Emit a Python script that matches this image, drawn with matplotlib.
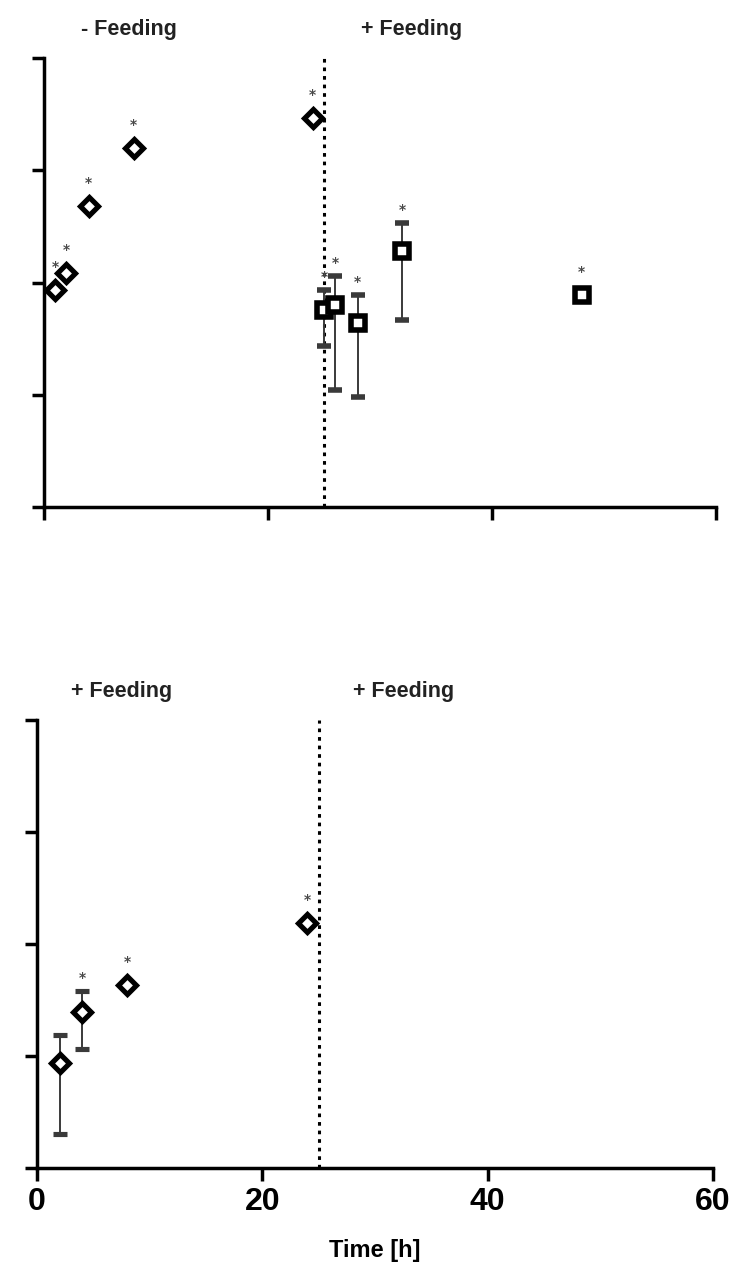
import numpy as np
import matplotlib
matplotlib.use("Agg")
import matplotlib.pyplot as plt
import matplotlib.transforms as mtransforms

# ---- data (log y axis, arbitrary units) ----
# top panel
top_diam_x = [1, 2, 4, 8, 24]
top_diam_y = [86, 122, 480, 1580, 2920]
top_diam_err = [0, 0, 0, 0, 0]          # bars hidden inside the markers
top_diam_star = [True, True, True, True, True]

top_sq_x = [25, 26, 28, 32, 48]
top_sq_y = [57, 63, 43.6, 191, 77]
top_sq_err = [29.6, 52, 34, 145, 0]
top_sq_star = [True, True, True, True, True]

# bottom panel
bot_diam_x = [2, 4, 8, 24]
bot_diam_y = [8.7, 24.7, 43, 154]
bot_diam_err = [6.7, 13.1, 0, 0]
bot_diam_star = [False, True, True, True]

feed_line_x = 25
top_labels = ["- Feeding", "+ Feeding"]
bot_labels = ["+ Feeding", "+ Feeding"]
label_x_top = [7.6, 32.8]
label_x_bot = [7.5, 32.5]
x_ticks = [0, 20, 40, 60]
y_ticks = [1, 10, 100, 1000, 10000]

DPI = 100
W, H = 740, 1275
fig = plt.figure(figsize=(W / DPI, H / DPI), dpi=DPI)

# axes placed in pixel terms of the reference
ax_top = fig.add_axes([44 / W, 1 - 507 / H, 672 / W, 449 / H])
ax_bot = fig.add_axes([37 / W, 1 - 1168 / H, 676 / W, 448 / H])

SPINE_LW = 2.5
err_kw = dict(ecolor="#3a3a3a", elinewidth=1.4, capsize=5, capthick=1.4,
              mfc="white", mec="black", linestyle="none", zorder=3)


def style_axis(ax, show_xlabels):
    ax.set_yscale("log")
    ax.set_xlim(0, 60)
    ax.set_ylim(y_ticks[0], y_ticks[-1])
    ax.set_xticks(x_ticks)
    ax.set_yticks(y_ticks)
    ax.yaxis.set_minor_locator(matplotlib.ticker.NullLocator())
    ax.set_yticklabels([])
    for s in ["top", "right"]:
        ax.spines[s].set_visible(False)
    for s in ["left", "bottom"]:
        ax.spines[s].set_linewidth(SPINE_LW)
    ax.tick_params(axis="both", which="major", direction="out",
                   length=9, width=SPINE_LW, color="black")
    if show_xlabels:
        ax.set_xticklabels([str(t) for t in x_ticks],
                           family=["Liberation Sans Narrow", "Liberation Sans"],
                           fontweight="bold", fontsize=23)
        ax.tick_params(axis="x", pad=5)
    else:
        ax.set_xticklabels([])
    ax.axvline(feed_line_x, color="black", lw=2.2,
               linestyle=(0, (1.2, 1.6)), zorder=2)


def add_stars(ax, xs, ys, errs, flags):
    # star sits above the error cap, or above the marker if the bar is hidden
    ax_h_px = ax.get_position().height * H
    px_per_dec = ax_h_px / 4.0
    for x, y, e, f in zip(xs, ys, errs, flags):
        if not f:
            continue
        cap_px = np.log10((y + e) / y) * px_per_dec
        off_px = max(cap_px + 13, 23)
        ax.annotate("*", xy=(x, y), xytext=(0, off_px * 72 / DPI),
                    textcoords="offset points", ha="center", va="center",
                    fontsize=10, fontweight="bold", color="#4a4a4a")


def add_labels(ax, xs, labels):
    trans = mtransforms.blended_transform_factory(ax.transData, ax.transAxes)
    for x, t in zip(xs, labels):
        ax.text(x, 1.063, t, transform=trans, ha="center", va="center",
                fontsize=15.5, fontweight="bold", family="Liberation Sans",
                color="#222222", clip_on=False)


# top panel
style_axis(ax_top, False)
ax_top.errorbar(top_diam_x, top_diam_y, yerr=top_diam_err, fmt="D",
                ms=9.5, mew=3.7, **err_kw)
ax_top.errorbar(top_sq_x, top_sq_y, yerr=top_sq_err, fmt="s",
                ms=9.5, mew=4.0, **err_kw)
add_stars(ax_top, top_diam_x, top_diam_y, top_diam_err, top_diam_star)
add_stars(ax_top, top_sq_x, top_sq_y, top_sq_err, top_sq_star)
add_labels(ax_top, label_x_top, top_labels)

# bottom panel
style_axis(ax_bot, True)
ax_bot.errorbar(bot_diam_x, bot_diam_y, yerr=bot_diam_err, fmt="D",
                ms=9.5, mew=3.7, **err_kw)
add_stars(ax_bot, bot_diam_x, bot_diam_y, bot_diam_err, bot_diam_star)
add_labels(ax_bot, label_x_bot, bot_labels)
ax_bot.set_xlabel("Time [h]", fontsize=17, fontweight="bold",
                  family="Liberation Sans", va="center")
ax_bot.xaxis.set_label_coords(0.5, -0.185)

fig.savefig("out.png", dpi=DPI, facecolor="white")
